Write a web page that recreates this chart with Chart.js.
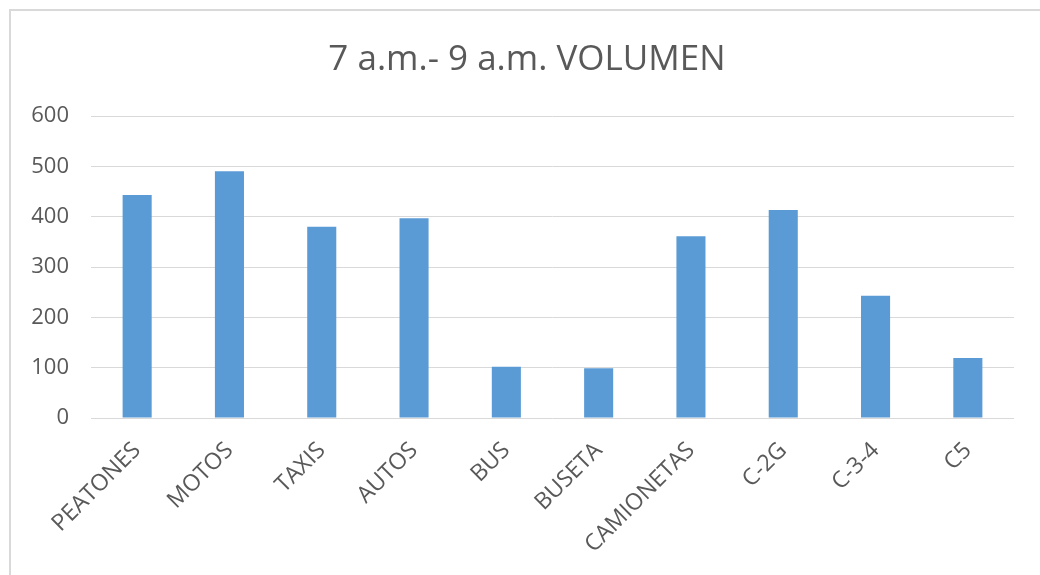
<!DOCTYPE html>
<html>
<head>
<meta charset="utf-8">
<script src="https://cdn.jsdelivr.net/npm/chart.js@4"></script>
<style>
  html, body { margin: 0; padding: 0; background: #ffffff; }
  #wrap { position: relative; width: 1040px; height: 575px; }
</style>
</head>
<body>
<div id="wrap"><canvas id="chart" width="1040" height="575"></canvas></div>
<script>
// Vehicle and pedestrian counts, 7 a.m. to 9 a.m.
const categories = ['PEATONES', 'MOTOS', 'TAXIS', 'AUTOS', 'BUS', 'BUSETA', 'CAMIONETAS', 'C-2G', 'C-3-4', 'C5'];
const volumen = [443, 490, 380, 397, 102, 99, 361, 413, 243, 119];
const yTicks = [0, 100, 200, 300, 400, 500, 600];
const chartTitle = '7 a.m.- 9 a.m. VOLUMEN';

const textColor = '#595959';
const gridColor = '#d9d9d9';
const fontFamily = '"Open Sans", "Noto Sans", sans-serif';

// Light frame around the chart object, plus the title centred over the whole object
const framePlugin = {
  id: 'frame',
  beforeDraw(chart) {
    const ctx = chart.ctx;
    ctx.save();
    ctx.fillStyle = '#ffffff';
    ctx.fillRect(0, 0, chart.width, chart.height);
    ctx.strokeStyle = gridColor;
    ctx.lineWidth = 2;
    ctx.beginPath();
    ctx.moveTo(10, chart.height + 5);
    ctx.lineTo(10, 10);
    ctx.lineTo(chart.width + 5, 10);
    ctx.stroke();
    ctx.restore();
  },
  afterDraw(chart) {
    const ctx = chart.ctx;
    ctx.save();
    ctx.fillStyle = textColor;
    ctx.font = '35px ' + fontFamily;
    ctx.textAlign = 'center';
    ctx.textBaseline = 'alphabetic';
    ctx.fillText(chartTitle, 527, 70);
    ctx.restore();
  }
};

new Chart(document.getElementById('chart'), {
  type: 'bar',
  data: {
    labels: categories,
    datasets: [{
      label: 'VOLUMEN',
      data: volumen,
      backgroundColor: '#5b9bd5',
      borderWidth: 0,
      barPercentage: 0.315,
      categoryPercentage: 1.0
    }]
  },
  options: {
    responsive: false,
    animation: false,
    devicePixelRatio: 1,
    layout: { padding: { left: 10, right: 26, top: 116, bottom: 0 } },
    plugins: {
      legend: { display: false },
      tooltip: { enabled: false },
      title: { display: false }
    },
    scales: {
      x: {
        grid: { display: false },
        border: { display: false },
        ticks: {
          color: textColor,
          font: { family: fontFamily, size: 23 },
          maxRotation: 45,
          minRotation: 45,
          autoSkip: false,
          padding: 11
        },
        afterFit(scale) { scale.height = 157; }
      },
      y: {
        min: 0,
        max: 600,
        afterBuildTicks(scale) { scale.ticks = yTicks.map(v => ({ value: v })); },
        grid: { color: gridColor, lineWidth: 1, drawTicks: false },
        border: { display: false },
        ticks: {
          color: textColor,
          font: { family: fontFamily, size: 22 },
          padding: 22
        },
        afterFit(scale) { scale.width = 81; }
      }
    }
  },
  plugins: [framePlugin]
});
</script>
</body>
</html>
